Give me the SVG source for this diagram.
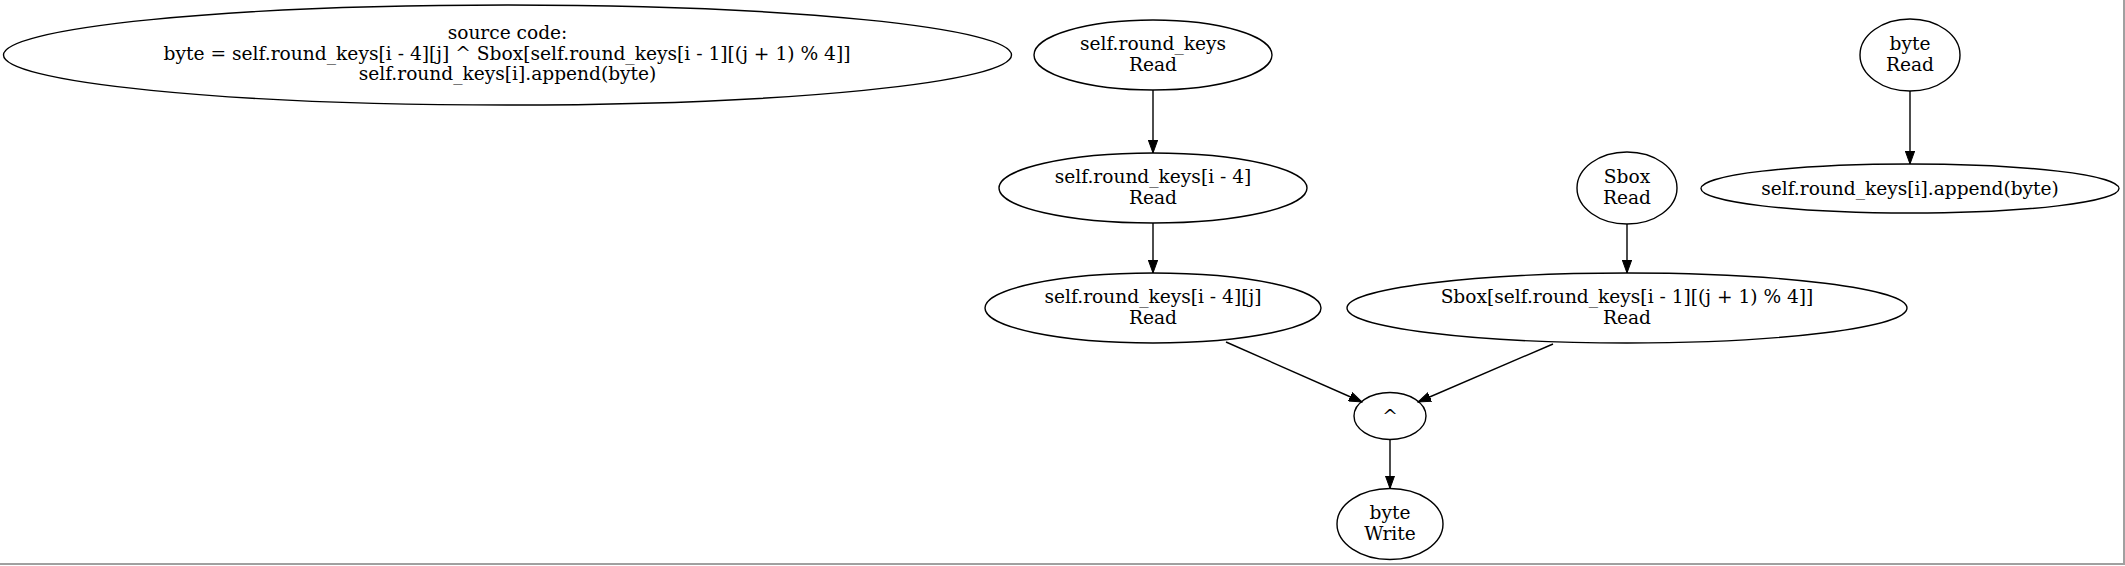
<svg xmlns="http://www.w3.org/2000/svg" width="2125" height="566" viewBox="0 0 2125 566">
<style>
.n ellipse{fill:none;stroke:#000;stroke-width:1.4}
text{font-family:"DejaVu Serif",serif;font-size:18.6px;text-anchor:middle;fill:#000}
.e{stroke:#000;stroke-width:1.4;fill:none;marker-end:url(#ah)}
</style>
<defs>
<marker id="ah" markerWidth="14" markerHeight="10" refX="13" refY="5" orient="auto" markerUnits="userSpaceOnUse">
<path d="M0,0.3 L13,5 L0,9.7 Z" fill="#000" stroke="#000" stroke-width="1"/>
</marker>
</defs>
<rect width="2125" height="566" fill="#fff"/>
<path d="M2124,0 V564 H0" fill="none" stroke="#a0a0a0" stroke-width="2"/>
<g id="source" class="n">
<ellipse cx="507.5" cy="55" rx="504" ry="50"/>
<text x="507.5" y="39">source code:</text>
<text x="507" y="59.5" textLength="687" lengthAdjust="spacingAndGlyphs">byte = self.round_keys[i - 4][j] ^ Sbox[self.round_keys[i - 1][(j + 1) % 4]]</text>
<text x="507.5" y="80">self.round_keys[i].append(byte)</text>
</g>
<g id="rk_read" class="n">
<ellipse cx="1153" cy="55" rx="119" ry="35"/>
<text x="1153" y="50">self.round_keys</text>
<text x="1153" y="70.5">Read</text>
</g>
<g id="rk_i4" class="n">
<ellipse cx="1153" cy="188" rx="154" ry="35"/>
<text x="1153" y="183">self.round_keys[i - 4]</text>
<text x="1153" y="203.5">Read</text>
</g>
<g id="rk_i4j" class="n">
<ellipse cx="1153" cy="308" rx="168" ry="35"/>
<text x="1153" y="303">self.round_keys[i - 4][j]</text>
<text x="1153" y="323.5">Read</text>
</g>
<g id="sbox_read" class="n">
<ellipse cx="1627" cy="188" rx="50" ry="36"/>
<text x="1627" y="183">Sbox</text>
<text x="1627" y="203.5">Read</text>
</g>
<g id="sbox_idx" class="n">
<ellipse cx="1627" cy="308" rx="280" ry="35"/>
<text x="1627" y="303">Sbox[self.round_keys[i - 1][(j + 1) % 4]]</text>
<text x="1627" y="323.5">Read</text>
</g>
<g id="byte_read" class="n">
<ellipse cx="1910" cy="55" rx="50" ry="36"/>
<text x="1910" y="50">byte</text>
<text x="1910" y="70.5">Read</text>
</g>
<g id="append" class="n">
<ellipse cx="1910" cy="188.5" rx="209" ry="24.5"/>
<text x="1910" y="195">self.round_keys[i].append(byte)</text>
</g>
<g id="xor" class="n">
<ellipse cx="1390" cy="416" rx="36" ry="23.5"/>
<text x="1390" y="422.5">^</text>
</g>
<g id="byte_write" class="n">
<ellipse cx="1390" cy="524" rx="53" ry="35.5"/>
<text x="1390" y="519">byte</text>
<text x="1390" y="539.5">Write</text>
</g>
<g id="edges">
<path class="e" d="M1153,90 V153"/>
<path class="e" d="M1153,223 V273"/>
<path class="e" d="M1226,342 L1362,402"/>
<path class="e" d="M1553,344 L1418,402"/>
<path class="e" d="M1627,224 V273"/>
<path class="e" d="M1910,91 V164"/>
<path class="e" d="M1390,439.5 V488.5"/>
</g>
</svg>
